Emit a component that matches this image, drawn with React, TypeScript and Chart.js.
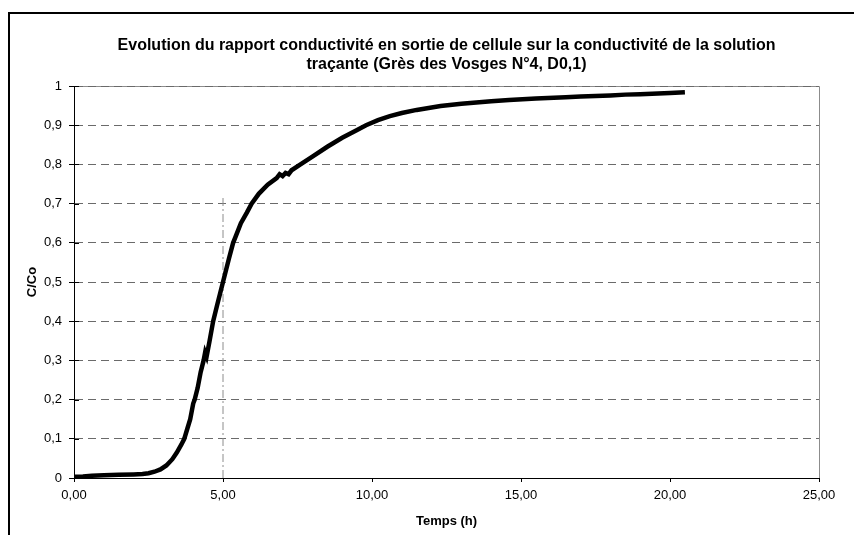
import React, { useEffect, useRef } from "react";
import { Chart, registerables } from "chart.js";

Chart.register(...registerables);

const TITLE_LINES = [
  "Evolution du rapport conductivité en sortie de cellule sur la conductivité de la solution",
  "traçante (Grès des Vosges N°4, D0,1)",
];
const X_TITLE = "Temps (h)";
const Y_TITLE = "C/Co";

// Measured curve: time (h) and C/Co
const TIME_H = [
  0.0, 0.3, 0.6, 1.0, 1.5, 2.0, 2.3, 2.5, 2.7, 2.9, 3.1, 3.3, 3.45, 3.6, 3.7,
  3.8, 3.9, 4.0, 4.05, 4.15, 4.25, 4.35, 4.4, 4.45, 4.55, 4.67, 4.8, 4.9, 5.0,
  5.1, 5.2, 5.34, 5.42, 5.6, 5.8, 5.96, 6.2, 6.5, 6.8, 6.9, 7.0, 7.1, 7.2, 7.3,
  7.6, 8.0, 8.5, 9.0, 9.5, 9.8, 10.2, 10.6, 11.0, 11.5, 12.3, 13.0, 14.0, 14.6,
  15.5, 16.5, 17.0, 18.0, 18.5, 19.0, 19.4, 20.0, 20.5,
];
const C_CO = [
  0.003, 0.004, 0.006, 0.007, 0.008, 0.009, 0.01, 0.012, 0.016, 0.022, 0.032,
  0.048, 0.065, 0.085, 0.1, 0.125, 0.15, 0.19, 0.2, 0.23, 0.27, 0.3, 0.32, 0.31,
  0.35, 0.4, 0.44, 0.47, 0.5, 0.53, 0.56, 0.6, 0.615, 0.65, 0.677, 0.7, 0.725,
  0.748, 0.765, 0.775, 0.77, 0.778, 0.775, 0.785, 0.8, 0.82, 0.845, 0.868,
  0.888, 0.9, 0.913, 0.923, 0.931, 0.939, 0.949, 0.955, 0.961, 0.964, 0.968,
  0.971, 0.973, 0.976, 0.978, 0.979, 0.98, 0.982, 0.984,
];

// Vertical reference line at t = 5 h
const MARKER_TIME = [5, 5];
const MARKER_VALUE = [0, 0.72];

const X_MIN = 0;
const X_MAX = 25;
const X_STEP = 5;
const Y_MIN = 0;
const Y_MAX = 1;
const Y_STEP = 0.1;

const FONT = '"Liberation Sans", Arial, sans-serif';

const fmtX = (v: number) => v.toFixed(2).replace(".", ",");
const fmtY = (v: number) => String(Number(v.toFixed(1))).replace(".", ",");

const decorPlugin = {
  id: "decor",
  beforeDraw(chart: any) {
    const { ctx, chartArea: a } = chart;
    ctx.save();
    ctx.fillStyle = "#ffffff";
    ctx.fillRect(0, 0, chart.width, chart.height);
    // outer frame
    ctx.strokeStyle = "#000000";
    ctx.lineWidth = 2;
    ctx.strokeRect(9, 13, chart.width + 40, chart.height + 40);
    // plot area border (top/right)
    ctx.strokeStyle = "#8c8c8c";
    ctx.lineWidth = 1;
    ctx.beginPath();
    ctx.moveTo(a.left, Math.round(a.top) + 0.5);
    ctx.lineTo(Math.round(a.right) + 0.5, Math.round(a.top) + 0.5);
    ctx.lineTo(Math.round(a.right) + 0.5, a.bottom);
    ctx.stroke();
    // title
    ctx.fillStyle = "#000000";
    ctx.font = `bold 16px ${FONT}`;
    ctx.textAlign = "center";
    ctx.textBaseline = "middle";
    const cx = (a.left + a.right) / 2;
    TITLE_LINES.forEach((t, i) => ctx.fillText(t, cx, a.top - 40 + i * 19));
    ctx.restore();
  },
  afterDraw(chart: any) {
    const { ctx, chartArea: a } = chart;
    const ys = chart.scales.y;
    ctx.save();
    ctx.strokeStyle = "#000000";
    ctx.lineWidth = 1;
    ctx.beginPath();
    ys.ticks.forEach((t: any) => {
      const py = Math.round(ys.getPixelForValue(t.value)) + 0.5;
      ctx.moveTo(a.left, py);
      ctx.lineTo(a.left + 5, py);
    });
    ctx.stroke();
    ctx.restore();
  },
};

export default function App() {
  const ref = useRef<HTMLCanvasElement | null>(null);

  useEffect(() => {
    if (!ref.current) return;
    const curve = TIME_H.map((t, i) => ({ x: t, y: C_CO[i] }));
    const marker = MARKER_TIME.map((t, i) => ({ x: t, y: MARKER_VALUE[i] }));
    const chart = new Chart(ref.current, {
      type: "scatter",
      data: {
        datasets: [
          {
            label: "C/Co",
            data: curve,
            showLine: true,
            borderColor: "#000000",
            backgroundColor: "#000000",
            borderWidth: 4.5,
            pointRadius: 0,
            tension: 0,
          },
          {
            label: "t = 5 h",
            data: marker,
            showLine: true,
            borderColor: "#8c8c8c",
            borderWidth: 1,
            borderDash: [8, 3, 2, 3],
            pointRadius: 0,
          },
        ],
      },
      options: {
        responsive: false,
        animation: false,
        events: [],
        layout: { padding: { top: 86, right: 35, bottom: 0, left: 0 } },
        plugins: {
          legend: { display: false },
          tooltip: { enabled: false },
          title: { display: false },
        },
        scales: {
          x: {
            type: "linear",
            min: X_MIN,
            max: X_MAX,
            afterFit: (s: any) => {
              s.height = 57;
            },
            ticks: {
              stepSize: X_STEP,
              callback: (v: any) => fmtX(Number(v)),
              color: "#000000",
              font: { family: FONT, size: 13 },
              padding: 6,
              maxRotation: 0,
            },
            grid: {
              display: true,
              drawOnChartArea: false,
              drawTicks: true,
              tickLength: 4,
              tickColor: "#000000",
              tickWidth: 1,
            },
            border: { display: true, color: "#000000", width: 1 },
            title: {
              display: true,
              text: X_TITLE,
              color: "#000000",
              font: { family: FONT, size: 13, weight: "bold" },
              padding: { top: 0, bottom: 6 },
            },
          },
          y: {
            type: "linear",
            min: Y_MIN,
            max: Y_MAX,
            afterFit: (s: any) => {
              s.width = 74;
            },
            ticks: {
              stepSize: Y_STEP,
              callback: (v: any) => fmtY(Number(v)),
              color: "#000000",
              font: { family: FONT, size: 13 },
              padding: 7,
            },
            grid: {
              display: true,
              drawOnChartArea: true,
              color: "#6a6a6a",
              lineWidth: 1,
              drawTicks: true,
              tickLength: 5,
              tickColor: "#000000",
              tickWidth: 1,
              tickBorderDash: [],
            },
            border: { display: true, color: "#000000", width: 1, dash: [8, 5] },
            title: {
              display: true,
              text: Y_TITLE,
              color: "#000000",
              font: { family: FONT, size: 13, weight: "bold" },
              padding: { top: 25, bottom: 0 },
            },
          },
        },
      },
      plugins: [decorPlugin],
    } as any);
    return () => chart.destroy();
  }, []);

  return (
    <div style={{ position: "fixed", left: 0, top: 0, width: 854, height: 535, background: "#fff" }}>
      <canvas ref={ref} width={854} height={535} style={{ display: "block" }} />
    </div>
  );
}
